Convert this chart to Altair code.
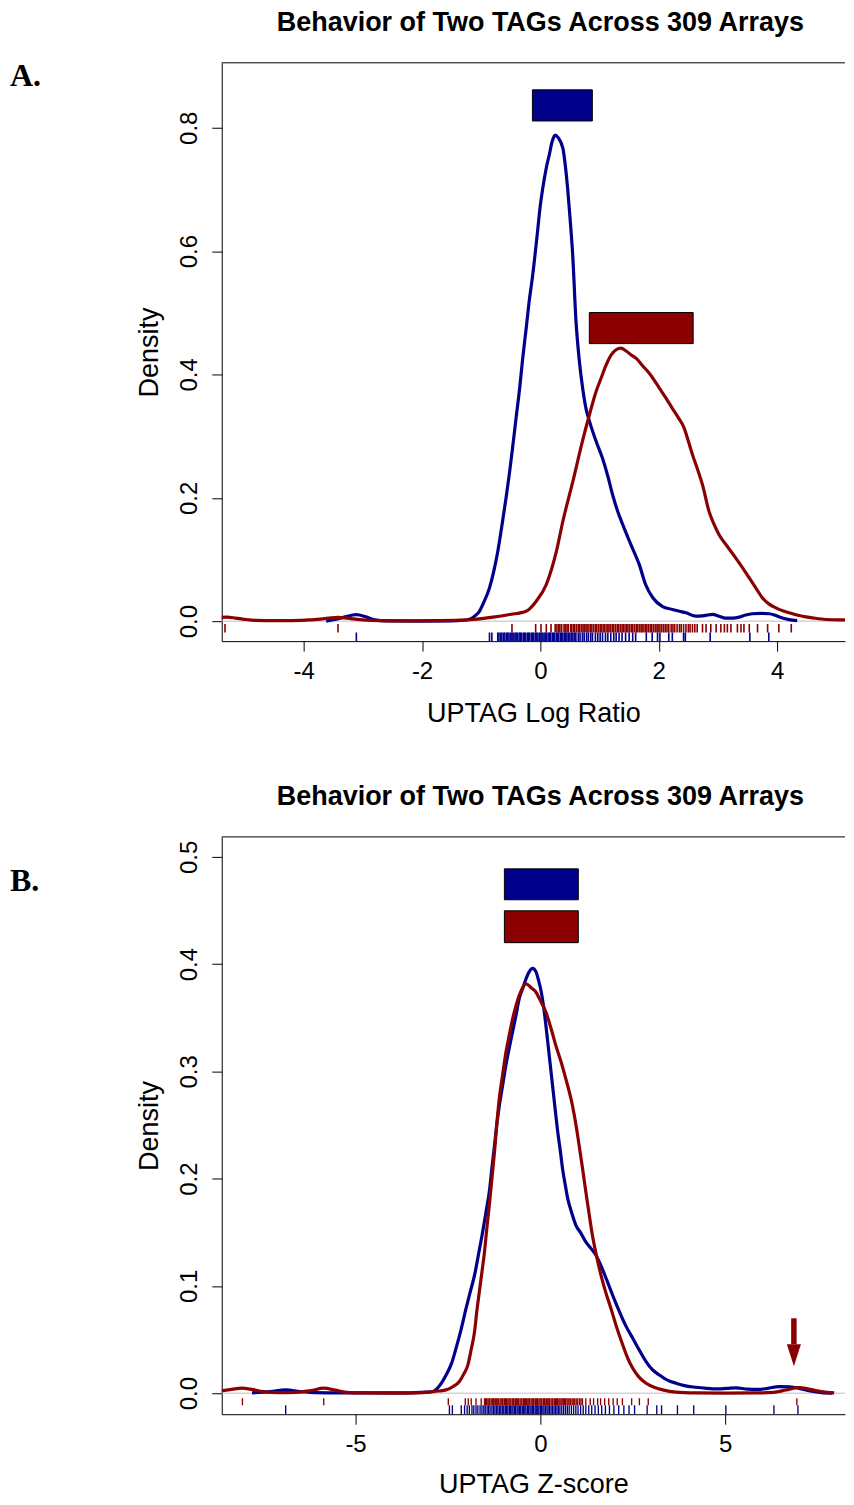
import altair as alt
import pandas as pd

TITLE = "Behavior of Two TAGs Across 309 Arrays"
BLUE = "#00008B"
RED = "#8B0000"

# ---------------- Panel A: density curves (x, density) ----------------
a_blue = [(-3.62, 0.000), (-3.45, 0.003), (-3.30, 0.007), (-3.11, 0.0105), (-2.95, 0.007),
          (-2.80, 0.002), (-2.60, 0.0003), (-2.00, 0.0), (-1.50, 0.0003), (-1.30, 0.0015),
          (-1.20, 0.003), (-1.10, 0.009), (-1.03, 0.016), (-0.95, 0.032), (-0.86, 0.054),
          (-0.79, 0.080), (-0.72, 0.113), (-0.65, 0.155), (-0.58, 0.200), (-0.52, 0.242),
          (-0.47, 0.281), (-0.41, 0.330), (-0.35, 0.378), (-0.30, 0.425), (-0.24, 0.475),
          (-0.19, 0.518), (-0.13, 0.561), (-0.06, 0.621), (0.00, 0.675), (0.04, 0.702),
          (0.10, 0.735), (0.15, 0.756), (0.20, 0.778), (0.25, 0.788), (0.30, 0.784),
          (0.38, 0.767), (0.42, 0.740), (0.46, 0.702), (0.50, 0.655), (0.546, 0.594),
          (0.602, 0.486), (0.655, 0.425), (0.714, 0.378), (0.77, 0.345),
          (0.83, 0.324), (0.94, 0.292), (1.05, 0.264), (1.14, 0.235), (1.22, 0.205),
          (1.30, 0.180), (1.39, 0.157), (1.53, 0.124), (1.67, 0.092), (1.78, 0.059),
          (1.90, 0.038), (2.06, 0.024), (2.23, 0.019), (2.35, 0.016), (2.46, 0.0135),
          (2.63, 0.008), (2.77, 0.009), (2.91, 0.011), (3.02, 0.008), (3.13, 0.005),
          (3.25, 0.005), (3.36, 0.0065), (3.47, 0.010), (3.58, 0.012), (3.72, 0.0125),
          (3.87, 0.012), (3.98, 0.009), (4.09, 0.005), (4.20, 0.0025), (4.34, 0.001)]

a_red = [(-5.40, 0.006), (-5.30, 0.0065), (-5.15, 0.005), (-5.00, 0.003), (-4.80, 0.0012),
         (-4.50, 0.0008), (-4.20, 0.001), (-3.90, 0.002), (-3.65, 0.004), (-3.42, 0.006),
         (-3.20, 0.004), (-3.00, 0.002), (-2.70, 0.0008), (-2.20, 0.0005), (-1.80, 0.0008),
         (-1.37, 0.0016), (-1.14, 0.0027), (-0.80, 0.0065), (-0.52, 0.0108), (-0.24, 0.0162),
         (-0.07, 0.0324), (0.10, 0.0594), (0.27, 0.113), (0.38, 0.162), (0.55, 0.227),
         (0.71, 0.2915), (0.83, 0.335), (0.94, 0.372), (1.03, 0.395), (1.11, 0.415),
         (1.20, 0.432), (1.28, 0.440), (1.36, 0.4426), (1.45, 0.438), (1.53, 0.432),
         (1.62, 0.426), (1.72, 0.415), (1.84, 0.402), (2.01, 0.378), (2.12, 0.362),
         (2.23, 0.345), (2.33, 0.330), (2.43, 0.313), (2.50, 0.292), (2.57, 0.270),
         (2.66, 0.245), (2.74, 0.221), (2.85, 0.178), (2.93, 0.158), (3.02, 0.140),
         (3.16, 0.121), (3.30, 0.1025), (3.42, 0.086), (3.53, 0.070), (3.64, 0.054),
         (3.75, 0.038), (3.86, 0.028), (3.98, 0.0215), (4.12, 0.016), (4.26, 0.012),
         (4.43, 0.008), (4.60, 0.0054), (4.82, 0.0027), (5.05, 0.002), (5.40, 0.002)]

# rug values, panel A
a_red_rug = [-5.33, -3.42, -0.48, -0.08, 0.01, 0.10, 0.18,
             0.25, 0.28, 0.31, 0.33, 0.36, 0.40, 0.42, 0.45, 0.47, 0.51, 0.53, 0.56, 0.58,
             0.61, 0.64, 0.66, 0.69, 0.72, 0.74, 0.77, 0.79, 0.82, 0.85, 0.87, 0.90, 0.93,
             0.95, 0.98, 1.01, 1.03, 1.06, 1.08, 1.11, 1.14, 1.16, 1.19, 1.22, 1.24, 1.27,
             1.30, 1.32, 1.35, 1.38, 1.40, 1.43, 1.46, 1.48, 1.51, 1.54, 1.56, 1.59, 1.62,
             1.64, 1.67, 1.70, 1.72, 1.75, 1.78, 1.80, 1.83, 1.86, 1.88, 1.91, 1.94, 1.97,
             1.99, 2.02, 2.05, 2.08, 2.11, 2.14, 2.17, 2.21, 2.24, 2.27, 2.31, 2.35, 2.38,
             2.42, 2.46, 2.50, 2.53, 2.57, 2.61, 2.65,
             2.74, 2.80, 2.88, 2.97, 3.05, 3.11, 3.16, 3.22, 3.33, 3.39, 3.44, 3.53, 3.67,
             3.84, 4.03, 4.24]
a_blue_rug = [-3.11, -0.86, -0.82,
              -0.72, -0.70, -0.67, -0.65, -0.62, -0.60, -0.57, -0.55, -0.53, -0.50, -0.48,
              -0.46, -0.43, -0.41, -0.39, -0.36, -0.34, -0.32, -0.29, -0.27, -0.25, -0.22,
              -0.20, -0.18, -0.15, -0.13, -0.11, -0.08, -0.06, -0.04, -0.01, 0.01, 0.03,
              0.06, 0.08, 0.10, 0.13, 0.15, 0.17, 0.20, 0.22, 0.24, 0.27, 0.29, 0.31, 0.34,
              0.36, 0.38, 0.41, 0.43, 0.45, 0.48, 0.50, 0.53, 0.55, 0.58, 0.60, 0.64, 0.67,
              0.71, 0.74, 0.78, 0.81, 0.85, 0.88, 0.93, 0.97, 1.01, 1.05, 1.10, 1.14, 1.19,
              1.24, 1.28, 1.33, 1.38, 1.44, 1.50, 1.56, 1.61,
              1.79, 1.89, 1.98, 2.02, 2.17, 2.23, 2.42, 2.45, 2.87, 3.54, 3.86]

# legend boxes, panel A: (x0, x1, y0, y1, series)
a_boxes = [(-0.135, 0.878, 0.811, 0.8615, "blue"), (0.827, 2.582, 0.450, 0.5004, "red")]

# ---------------- Panel B ----------------
b_blue = [(-7.80, 0.0003), (-7.30, 0.0015), (-6.89, 0.003), (-6.50, 0.0015), (-6.10, 0.0005),
          (-5.50, 0.0003), (-4.50, 0.0002), (-3.50, 0.0003), (-3.20, 0.0008), (-2.91, 0.0016),
          (-2.75, 0.006), (-2.55, 0.017), (-2.40, 0.028), (-2.28, 0.042), (-2.14, 0.060),
          (-2.01, 0.079), (-1.90, 0.094), (-1.78, 0.110), (-1.67, 0.130), (-1.56, 0.1505),
          (-1.47, 0.169), (-1.38, 0.188), (-1.31, 0.210), (-1.24, 0.231), (-1.18, 0.250),
          (-1.11, 0.268), (-1.02, 0.287), (-0.93, 0.306), (-0.84, 0.322), (-0.75, 0.337),
          (-0.66, 0.352), (-0.57, 0.368), (-0.47, 0.378), (-0.39, 0.386), (-0.30, 0.393),
          (-0.21, 0.396), (-0.12, 0.393), (-0.05, 0.385), (0.02, 0.375), (0.09, 0.360),
          (0.15, 0.343), (0.24, 0.315), (0.33, 0.287), (0.40, 0.265), (0.47, 0.2437),
          (0.54, 0.226), (0.60, 0.2095), (0.67, 0.195), (0.74, 0.1816), (0.85, 0.168),
          (0.96, 0.1567), (1.10, 0.149), (1.23, 0.141), (1.37, 0.135), (1.50, 0.1288),
          (1.64, 0.119), (1.78, 0.107), (1.96, 0.091), (2.14, 0.076), (2.31, 0.063),
          (2.50, 0.0512), (2.68, 0.040), (2.86, 0.0295), (3.03, 0.022), (3.22, 0.017),
          (3.45, 0.012), (3.67, 0.0093), (3.90, 0.007), (4.20, 0.0055), (4.50, 0.0045),
          (4.80, 0.004), (5.05, 0.0045), (5.30, 0.005), (5.60, 0.0038), (5.90, 0.0035),
          (6.15, 0.0045), (6.46, 0.0062), (6.75, 0.0058), (7.00, 0.0045), (7.30, 0.0022),
          (7.60, 0.0006), (7.90, 0.0001)]

b_red = [(-8.70, 0.002), (-8.35, 0.0035), (-8.09, 0.0047), (-7.80, 0.0035), (-7.50, 0.0015),
         (-7.10, 0.0006), (-6.60, 0.0008), (-6.20, 0.0025), (-5.86, 0.0047), (-5.55, 0.0028),
         (-5.25, 0.0008), (-4.80, 0.0002), (-4.00, 0.0001), (-3.40, 0.0003), (-3.00, 0.001),
         (-2.75, 0.002), (-2.55, 0.0031), (-2.37, 0.006), (-2.19, 0.0109), (-2.07, 0.018),
         (-1.96, 0.0264), (-1.87, 0.041), (-1.78, 0.0574), (-1.72, 0.076), (-1.65, 0.0947),
         (-1.58, 0.113), (-1.51, 0.132), (-1.45, 0.153), (-1.38, 0.1753), (-1.31, 0.200),
         (-1.24, 0.225), (-1.18, 0.250), (-1.11, 0.2747), (-1.02, 0.297), (-0.93, 0.318),
         (-0.84, 0.334), (-0.75, 0.349), (-0.66, 0.361), (-0.57, 0.371), (-0.48, 0.378),
         (-0.39, 0.3817), (-0.25, 0.378), (-0.12, 0.374), (0.00, 0.366), (0.15, 0.3554),
         (0.29, 0.340), (0.42, 0.324), (0.56, 0.309), (0.69, 0.293), (0.87, 0.268),
         (0.96, 0.251), (1.05, 0.231), (1.14, 0.210), (1.23, 0.188), (1.32, 0.167),
         (1.41, 0.147), (1.52, 0.128), (1.64, 0.110), (1.77, 0.094), (1.91, 0.079),
         (2.06, 0.062), (2.23, 0.045), (2.36, 0.033), (2.50, 0.0233), (2.67, 0.015),
         (2.86, 0.0093), (3.08, 0.0055), (3.31, 0.0031), (3.67, 0.001), (4.20, 0.0003),
         (5.00, 0.0001), (5.80, 0.0002), (6.30, 0.0008), (6.65, 0.003), (7.00, 0.0053),
         (7.30, 0.0035), (7.60, 0.0015), (7.95, 0.0003)]

b_red_rug = [-8.06, -5.86, -2.49, -2.03, -1.95, -1.87, -1.74, -1.60,
             -1.51, -1.48, -1.46, -1.42, -1.39, -1.37, -1.33, -1.30, -1.27, -1.25, -1.21,
             -1.18, -1.15, -1.13, -1.09, -1.06, -1.03, -1.01, -0.97, -0.94, -0.92, -0.88,
             -0.85, -0.82, -0.80, -0.76, -0.73, -0.71, -0.67, -0.64, -0.61, -0.59, -0.55,
             -0.52, -0.50, -0.46, -0.43, -0.40, -0.38, -0.34, -0.31, -0.29, -0.25, -0.22,
             -0.19, -0.17, -0.13, -0.10, -0.08, -0.04, -0.01, 0.02, 0.04, 0.08, 0.11, 0.13,
             0.17, 0.20, 0.23, 0.25, 0.29, 0.32, 0.34, 0.38, 0.41, 0.44, 0.46, 0.50, 0.53,
             0.56, 0.59, 0.62, 0.65, 0.68, 0.72, 0.75, 0.78, 0.82, 0.86, 0.89, 0.93, 0.97,
             1.01, 1.06, 1.10, 1.14,
             1.23, 1.35, 1.44, 1.55, 1.63, 1.74, 1.85, 1.97, 2.08, 2.22, 2.47, 2.68, 2.92,
             6.94]
b_blue_rug = [-6.89, -2.46, -2.38,
              -2.14, -2.05, -1.98, -1.92, -1.85, -1.80, -1.74, -1.69, -1.63, -1.58, -1.53,
              -1.49, -1.44, -1.40, -1.36, -1.31, -1.27, -1.23, -1.19, -1.15, -1.11, -1.07,
              -1.03, -0.99, -0.95, -0.92, -0.88, -0.84, -0.81, -0.77, -0.74, -0.70, -0.67,
              -0.63, -0.60, -0.56, -0.53, -0.49, -0.46, -0.42, -0.39, -0.35, -0.32, -0.28,
              -0.25, -0.21, -0.18, -0.14, -0.11, -0.07, -0.04, 0.00, 0.03, 0.07, 0.10, 0.14,
              0.18, 0.21, 0.25, 0.29, 0.33, 0.37, 0.41, 0.45, 0.49, 0.53, 0.58, 0.63, 0.68,
              0.73, 0.78, 0.84, 0.90, 0.96, 1.02, 1.09, 1.16, 1.23, 1.31, 1.39, 1.48, 1.57,
              1.66, 1.76, 1.87, 1.99, 2.12, 2.26, 2.40,
              2.55, 2.89, 3.15, 3.28, 3.71, 4.15, 5.02, 6.32, 6.97]

b_boxes = [(-0.973, 1.027, 0.460, 0.4888, "blue"), (-0.973, 1.027, 0.420, 0.4497, "red")]

# outlier arrow in panel B: x, shaft top, head base, tip
b_arrow_x = [6.86]
b_arrow_top = [0.0698]
b_arrow_base = [0.0456]
b_arrow_tip = [0.0251]

COLOR_SCALE = alt.Scale(domain=["blue", "red"], range=[BLUE, RED])
FONT = "Liberation Sans"
W = 624


def curve_df(pairs, name):
    return pd.DataFrame({"x": [p[0] for p in pairs], "y": [p[1] for p in pairs], "s": name})


def panel(blue, red, blue_rug, red_rug, boxes, xdom, ydom, xticks, yticks, xtitle,
          red_rug_y, blue_rug_y, letter, letter_y, height, rug_w, xtitle_pad, extra=None):
    xs = alt.Scale(domain=xdom, nice=False, zero=False)
    ys = alt.Scale(domain=ydom, nice=False, zero=False)
    xax = alt.Axis(values=xticks, title=xtitle, labelExpr="'' + datum.value",
                   titlePadding=xtitle_pad)
    yax = alt.Axis(values=yticks, title="Density", format=".1f")

    zero = alt.Chart(pd.DataFrame({"z": [0.0]})).mark_rule(color="#BEBEBE", strokeWidth=1).encode(
        y=alt.Y("z:Q", scale=ys, axis=yax))
    top = alt.Chart(pd.DataFrame({"t": [ydom[1]]})).mark_rule(color="black", strokeWidth=1).encode(
        y=alt.Y("t:Q", scale=ys))

    def line(df):
        return alt.Chart(df).mark_line(strokeWidth=3.2, interpolate="monotone", clip=True).encode(
            x=alt.X("x:Q", scale=xs, axis=xax),
            y=alt.Y("y:Q", scale=ys),
            color=alt.Color("s:N", scale=COLOR_SCALE, legend=None))

    def rug(vals, name, yr):
        df = pd.DataFrame({"x": vals, "s": name, "y0": yr[0], "y1": yr[1]})
        return alt.Chart(df).mark_rule(strokeWidth=rug_w, clip=True).encode(
            x=alt.X("x:Q", scale=xs),
            y=alt.Y("y0:Q", scale=ys),
            y2="y1:Q",
            color=alt.Color("s:N", scale=COLOR_SCALE, legend=None))

    box_df = pd.DataFrame({"x0": [b[0] for b in boxes], "x1": [b[1] for b in boxes],
                           "y0": [b[2] for b in boxes], "y1": [b[3] for b in boxes],
                           "s": [b[4] for b in boxes]})
    box = alt.Chart(box_df).mark_rect(stroke="black", strokeWidth=1).encode(
        x=alt.X("x0:Q", scale=xs), x2="x1:Q",
        y=alt.Y("y0:Q", scale=ys), y2="y1:Q",
        color=alt.Color("s:N", scale=COLOR_SCALE, legend=None))

    title = alt.Chart(pd.DataFrame({"t": [TITLE]})).mark_text(
        font=FONT, fontSize=27, fontWeight="bold", align="center", baseline="middle", color="black"
    ).encode(text="t:N", x=alt.value(319), y=alt.value(-40))
    lab = alt.Chart(pd.DataFrame({"t": [letter]})).mark_text(
        font="Liberation Serif", fontSize=32, fontWeight="bold", align="left", baseline="middle",
        color="black"
    ).encode(text="t:N", x=alt.value(-212), y=alt.value(letter_y))

    layers = [zero, top, line(curve_df(blue, "blue")), line(curve_df(red, "red")),
              rug(red_rug, "red", red_rug_y), rug(blue_rug, "blue", blue_rug_y), box, title, lab]
    if extra is not None:
        layers += extra(xs, ys)
    return alt.layer(*layers).properties(width=W, height=height)


def arrow(xs, ys):
    df = pd.DataFrame({"x": b_arrow_x, "top": b_arrow_top, "base": b_arrow_base,
                       "tip": b_arrow_tip})
    df["mid"] = (df["base"] + df["tip"]) / 2
    shaft = alt.Chart(df).mark_rule(color=RED, strokeWidth=5.5).encode(
        x=alt.X("x:Q", scale=xs), y=alt.Y("top:Q", scale=ys), y2="base:Q")
    head = alt.Chart(df).mark_point(shape="M-0.64,-1L0.64,-1L0,1Z", filled=True, color=RED,
                                    opacity=1, size=484).encode(
        x=alt.X("x:Q", scale=xs), y=alt.Y("mid:Q", scale=ys))
    return [shaft, head]


pA = panel(a_blue, a_red, a_blue_rug, a_red_rug, a_boxes, [-5.385, 5.148], [-0.0324, 0.9053],
           [-4, -2, 0, 2, 4], [0, 0.2, 0.4, 0.6, 0.8], "UPTAG Log Ratio",
           [-0.0047, -0.0183], [-0.0183, -0.0324], "A.", 13, 579, 1.6, 17)
pB = panel(b_blue, b_red, b_blue_rug, b_red_rug, b_boxes, [-8.62, 8.243], [-0.0196, 0.5186],
           [-5, 0, 5], [0, 0.1, 0.2, 0.3, 0.4, 0.5], "UPTAG Z-score",
           [-0.0047, -0.0112], [-0.0112, -0.0196], "B.", 44, 578, 1.35, 15, extra=arrow)

chart = alt.vconcat(pA, pB, spacing=57).properties(
    padding={"left": 2, "top": 0, "right": 0, "bottom": 0}
).configure_view(strokeWidth=0).configure_axis(
    grid=False, domain=True, domainColor="black", domainWidth=1,
    tickColor="black", tickSize=10, tickWidth=1,
    labelFont=FONT, labelFontSize=24, labelColor="black",
    titleFont=FONT, titleFontSize=27, titleFontWeight="normal", titleColor="black",
).configure_axisX(labelPadding=8).configure_axisY(
    labelAngle=-90, labelAlign="center", labelBaseline="bottom", labelPadding=10, titlePadding=14
)

chart.save("out.html", embed_options={"renderer": "svg", "actions": False})
